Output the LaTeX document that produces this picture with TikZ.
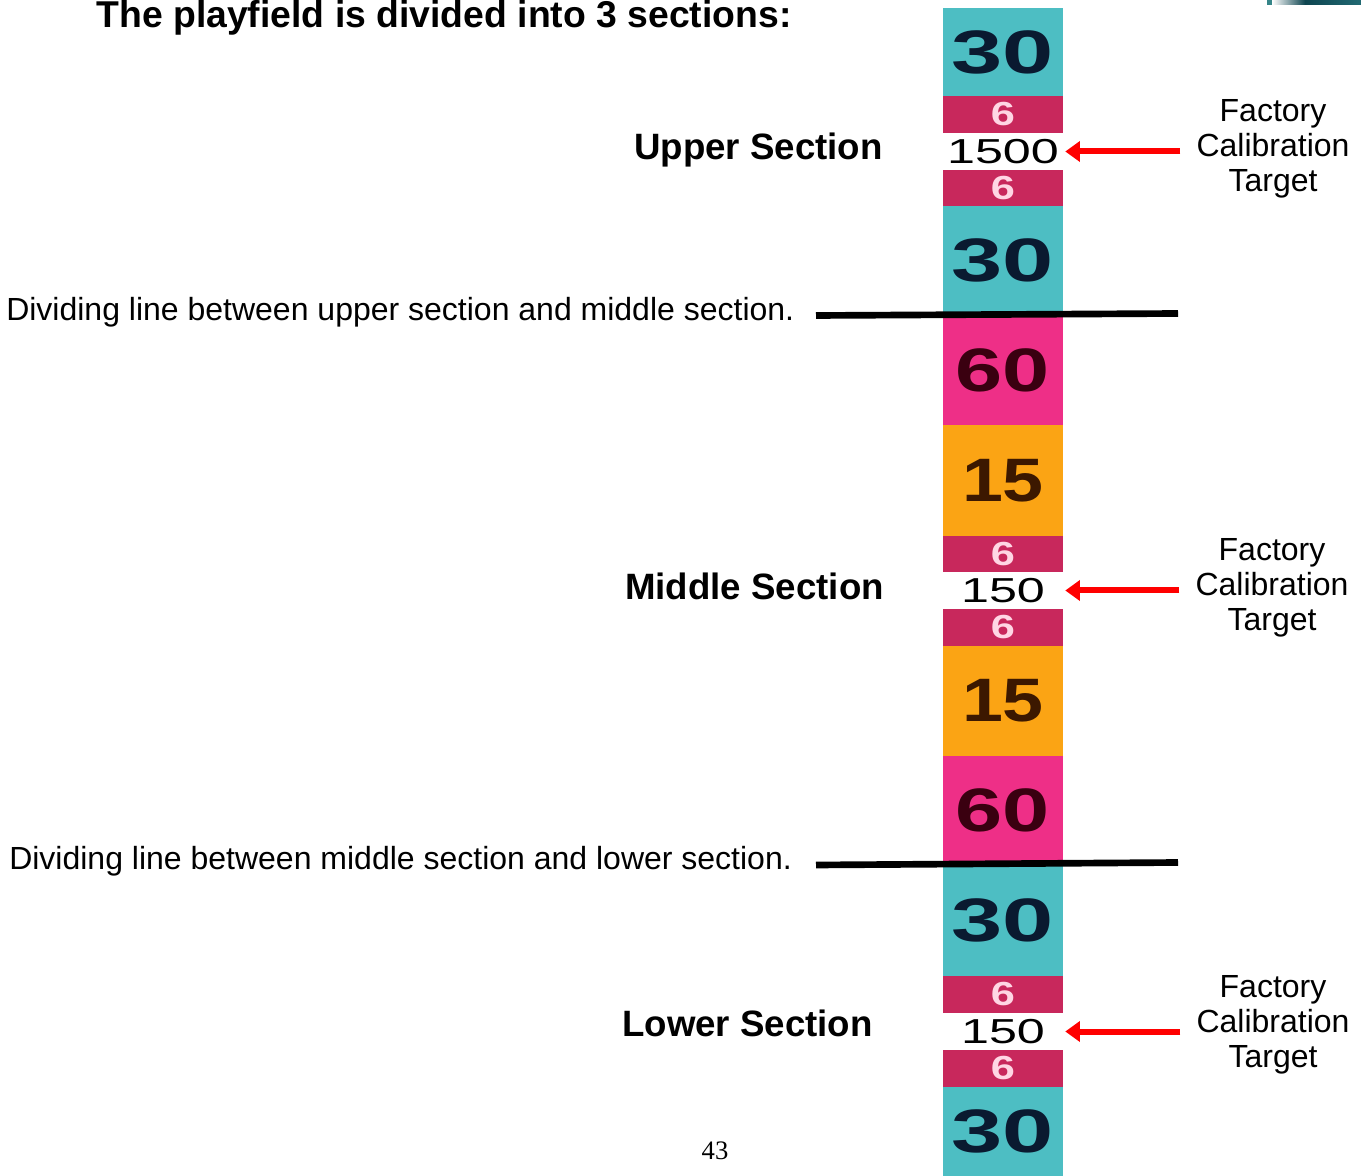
\documentclass[tikz,border=0pt]{standalone}
\usepackage{fontspec}
\setmainfont{Liberation Sans}
\newfontfamily\pagefont{Liberation Serif}
\usetikzlibrary{arrows.meta,positioning}
\definecolor{Teal}{HTML}{4DBEC3}
\definecolor{Crimson}{HTML}{C8285C}
\definecolor{Pink}{HTML}{EE2F87}
\definecolor{Orange}{HTML}{FBA414}
\definecolor{Ink}{HTML}{0A1A30}
\definecolor{Maroon}{HTML}{3A0010}
\definecolor{Brown}{HTML}{3C1800}
\definecolor{Blush}{HTML}{FFD6E4}
\definecolor{Sea}{HTML}{0E4550}

\begin{document}
\begin{tikzpicture}[x=0.75pt,y=-0.75pt,
    bigdigit/.style={font=\fontsize{46}{46}\selectfont\bfseries},
    smalldigit/.style={font=\fontsize{25}{25}\selectfont\bfseries},
    thindigit/.style={font=\fontsize{26}{26}\selectfont},
    note/.style={font=\fontsize{24}{26.25}\selectfont,inner sep=0pt},
    sect/.style={font=\fontsize{27.5}{30}\selectfont\bfseries,inner sep=0pt},
    tgt/.style={note,align=center,inner xsep=12pt},
    marker/.style={draw=red,line width=4.5pt,-{Triangle[length=11pt,width=15pt]},shorten >=1.5pt},
    divline/.style={line width=5pt}]
  \useasboundingbox (0,0) rectangle (1361,1176);
  % corner of the next picture
  \fill[Teal!70!black] (1267,0) rectangle (1272,5);
  \shade[left color=white,right color=Sea] (1272,0) rectangle (1305,5);
  \shade[left color=Sea,right color=Sea!70!Teal] (1305,0) rectangle (1361,5);
  % the strip
  \foreach \ya/\yb/\col/\txt/\tcol/\kind/\sx [count=\i] in {
      8/96/Teal/30/Ink/bigdigit/1.5, 96/133/Crimson/6/Blush/smalldigit/1.3,
      133/170/white/1500/black/thindigit/1.45, 170/206/Crimson/6/Blush/smalldigit/1.3,
      206/315/Teal/30/Ink/bigdigit/1.5, 315/425/Pink/60/Maroon/bigdigit/1.38,
      425/536/Orange/15/Brown/bigdigit/1.2, 536/572/Crimson/6/Blush/smalldigit/1.3,
      572/609/white/150/black/thindigit/1.45, 609/646/Crimson/6/Blush/smalldigit/1.3,
      646/756/Orange/15/Brown/bigdigit/1.2, 756/864/Pink/60/Maroon/bigdigit/1.38,
      864/976/Teal/30/Ink/bigdigit/1.5, 976/1013/Crimson/6/Blush/smalldigit/1.3,
      1013/1050/white/150/black/thindigit/1.45, 1050/1087/Crimson/6/Blush/smalldigit/1.3,
      1087/1176/Teal/30/Ink/bigdigit/1.5}{
    \node[\kind,fill=\col,text=\tcol,inner sep=0pt,minimum width=90pt,
          minimum height={(\yb-\ya)*0.75pt+0.6pt}] (seg\i) at (1003,{(\ya+\yb)/2}) {\scalebox{\sx}[1]{\txt}};}
  % texts
  \node[sect,anchor=base,font=\fontsize{28}{30}\selectfont\bfseries] (title) at (444,28) {The playfield is divided into 3 sections:};
  \node[sect,anchor=base] (upper) at (758.5,160) {Upper Section};
  \node[sect,anchor=base] (middle) at (754.5,600) {Middle Section};
  \node[sect,anchor=base] (lower) at (747.5,1036) {Lower Section};
  \node[note,anchor=base west] (divtxtA) at (6,321) {Dividing line between upper section and middle section.};
  \node[note,anchor=base west] (divtxtB) at (9,869) {Dividing line between middle section and lower section.};
  \node[tgt] (tgtA) at (1273,149) {Factory\\Calibration\\Target};
  \node[tgt] (tgtB) at (1272,588) {Factory\\Calibration\\Target};
  \node[tgt] (tgtC) at (1273,1025) {Factory\\Calibration\\Target};
  \node[font=\pagefont\fontsize{20}{20}\selectfont,anchor=base,inner sep=0pt] (pnum) at (715,1159) {43};
  % dividing lines
  \coordinate (divA-l) at (816,315.5);
  \coordinate (divA-r) at (1178,313.5);
  \coordinate (divB-l) at (816,865);
  \coordinate (divB-r) at (1178,862.5);
  \draw[divline] (divA-l) -- (divA-r);
  \draw[divline] (divB-l) -- (divB-r);
  % arrows to the targets
  \draw[marker] (seg3.east -| tgtA.west) -- (seg3.east);
  \draw[marker] (seg9.east -| tgtB.west) -- (seg9.east);
  \draw[marker] (seg15.east -| tgtC.west) -- (seg15.east);
\end{tikzpicture}
\end{document}
